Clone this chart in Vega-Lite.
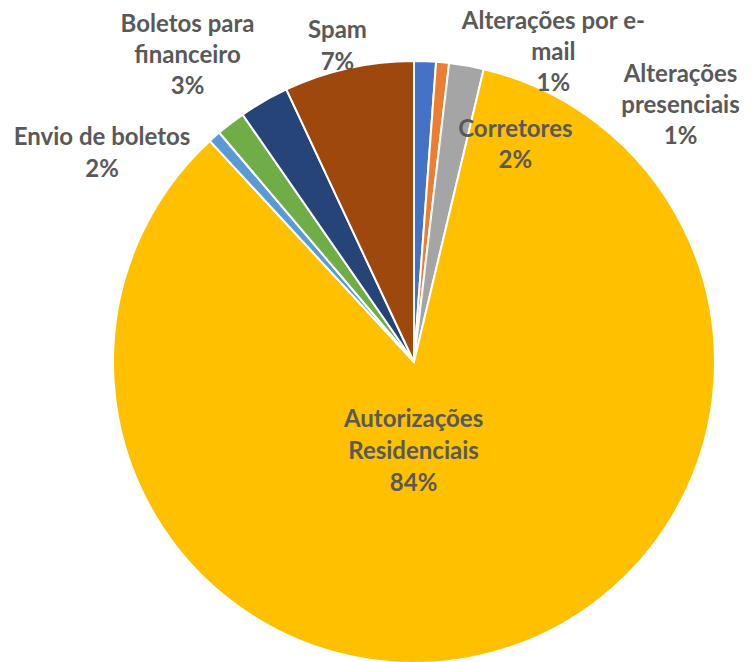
{
  "$schema": "https://vega.github.io/schema/vega-lite/v6.json",
  "autosize": {"type": "none"},
  "width": 602,
  "height": 602,
  "padding": {"left": 113, "top": 61, "right": 40, "bottom": 0},
  "background": "white",
  "data": {"values": [
    {"cat": "Alterações por e-mail", "label": "Alterações por e-\nmail\n1%", "value": 1.17, "ord": 1},
    {"cat": "Alterações presenciais", "label": "Alterações\npresenciais\n1%", "value": 0.69, "ord": 2},
    {"cat": "Corretores", "label": "Corretores\n2%", "value": 1.86, "ord": 3},
    {"cat": "Autorizações Residenciais", "label": "Autorizações\nResidenciais\n84%", "value": 84.4, "ord": 4},
    {"cat": "Outros", "label": "", "value": 0.67, "ord": 5},
    {"cat": "Envio de boletos", "label": "Envio de boletos\n2%", "value": 1.56, "ord": 6},
    {"cat": "Boletos para financeiro", "label": "Boletos para\nfinanceiro\n3%", "value": 2.67, "ord": 7},
    {"cat": "Spam", "label": "Spam\n7%", "value": 6.97, "ord": 8}
  ]},
  "encoding": {
    "theta": {"field": "value", "type": "quantitative", "stack": true},
    "order": {"field": "ord", "type": "quantitative", "sort": "ascending"}
  },
  "layer": [
    {
      "mark": {"type": "arc", "stroke": "white", "strokeWidth": 2},
      "encoding": {
        "color": {"field": "cat", "type": "nominal", "legend": null,
          "scale": {
            "domain": ["Alterações por e-mail", "Alterações presenciais", "Corretores", "Autorizações Residenciais", "Outros", "Envio de boletos", "Boletos para financeiro", "Spam"],
            "range": ["#4472C4", "#ED7D31", "#A5A5A5", "#FFC000", "#5B9BD5", "#70AD47", "#264478", "#9E480E"]
          }}
      }
    },
    {
      "mark": {"type": "text", "font": "Lato", "fontWeight": "bold", "fontSize": 24, "color": "#595959", "lineBreak": "\n", "lineHeight": 31, "align": "center", "baseline": "middle", "radius": 310, "dx": 128, "dy": -30},
      "encoding": {"text": {"condition": {"test": "datum.cat === 'Alterações por e-mail'", "field": "label"}, "value": ""}}
    },
    {
      "mark": {"type": "text", "font": "Lato", "fontWeight": "bold", "fontSize": 24, "color": "#595959", "lineBreak": "\n", "lineHeight": 31, "align": "center", "baseline": "middle", "radius": 300, "dx": 238, "dy": 12},
      "encoding": {"text": {"condition": {"test": "datum.cat === 'Alterações presenciais'", "field": "label"}, "value": ""}}
    },
    {
      "mark": {"type": "text", "font": "Lato", "fontWeight": "bold", "fontSize": 24, "color": "#595959", "lineBreak": "\n", "lineHeight": 31, "align": "center", "baseline": "middle", "radius": 220, "dx": 63, "dy": -15},
      "encoding": {"text": {"condition": {"test": "datum.cat === 'Corretores'", "field": "label"}, "value": ""}}
    },
    {
      "mark": {"type": "text", "font": "Lato", "fontWeight": "bold", "fontSize": 24, "color": "#595959", "lineBreak": "\n", "lineHeight": 32, "align": "center", "baseline": "middle", "radius": 93, "dx": -24, "dy": -32},
      "encoding": {"text": {"condition": {"test": "datum.cat === 'Autorizações Residenciais'", "field": "label"}, "value": ""}}
    },
    {
      "mark": {"type": "text", "font": "Lato", "fontWeight": "bold", "fontSize": 24, "color": "#595959", "lineBreak": "\n", "lineHeight": 32, "align": "center", "baseline": "middle", "radius": 330, "dx": -111, "dy": 38},
      "encoding": {"text": {"condition": {"test": "datum.cat === 'Envio de boletos'", "field": "label"}, "value": ""}}
    },
    {
      "mark": {"type": "text", "font": "Lato", "fontWeight": "bold", "fontSize": 24, "color": "#595959", "lineBreak": "\n", "lineHeight": 31, "align": "center", "baseline": "middle", "radius": 350, "dx": -52, "dy": -34},
      "encoding": {"text": {"condition": {"test": "datum.cat === 'Boletos para financeiro'", "field": "label"}, "value": ""}}
    },
    {
      "mark": {"type": "text", "font": "Lato", "fontWeight": "bold", "fontSize": 24, "color": "#595959", "lineBreak": "\n", "lineHeight": 32, "align": "center", "baseline": "middle", "radius": 320, "dx": -7, "dy": -19},
      "encoding": {"text": {"condition": {"test": "datum.cat === 'Spam'", "field": "label"}, "value": ""}}
    }
  ],
  "config": {"view": {"stroke": null}}
}
